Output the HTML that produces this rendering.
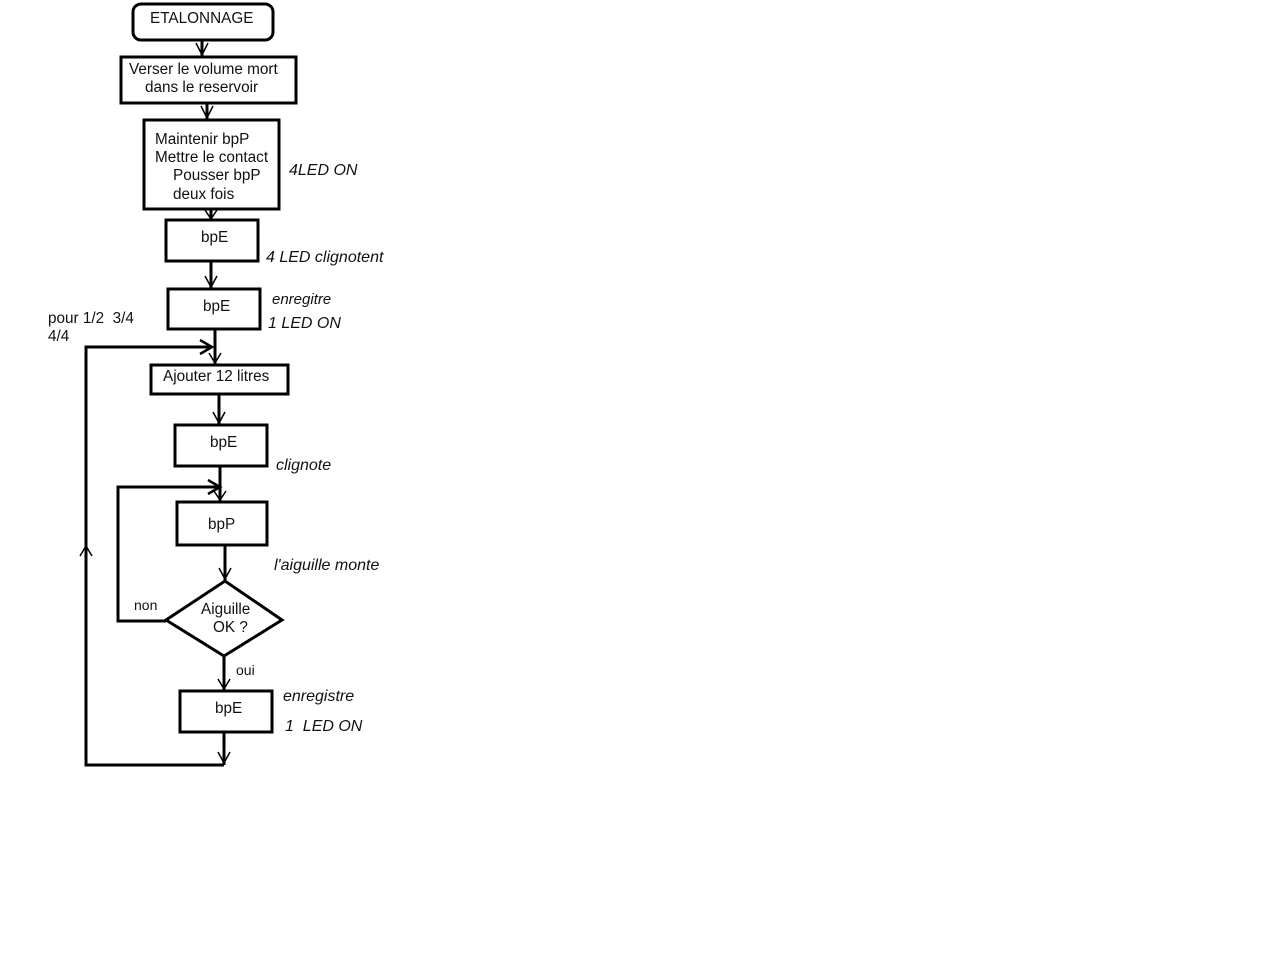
<!DOCTYPE html>
<html><head><style>body{margin:0;background:#fff;}svg{display:block}</style></head><body>
<svg width="1280" height="960" viewBox="0 0 1280 960" xmlns="http://www.w3.org/2000/svg" font-family="Liberation Sans, sans-serif" font-size="15.3" fill="#111">
<g fill="none" stroke="#000" stroke-width="3">
<rect x="133" y="4" width="140" height="36" rx="8"/>
<rect x="121" y="57" width="175" height="46"/>
<rect x="144" y="120" width="135" height="89"/>
<rect x="166" y="220" width="92" height="41"/>
<rect x="168" y="289" width="92" height="40"/>
<rect x="151" y="365" width="137" height="29"/>
<rect x="175" y="425" width="92" height="41"/>
<rect x="177" y="502" width="90" height="43"/>
<polygon points="166,620 225,581 282,620 224,656"/>
<rect x="180" y="691" width="92" height="41"/>
<line x1="202" y1="40" x2="202" y2="57"/>
<line x1="207" y1="103" x2="207" y2="120"/>
<line x1="211" y1="209" x2="211" y2="220"/>
<line x1="211" y1="261" x2="211" y2="289"/>
<line x1="215" y1="329" x2="215" y2="365"/>
<line x1="219" y1="394" x2="219" y2="425"/>
<line x1="220" y1="466" x2="220" y2="502"/>
<line x1="225" y1="545" x2="225" y2="581"/>
<line x1="224" y1="656" x2="224" y2="691"/>
<line x1="224" y1="732" x2="224" y2="765"/>
<polyline points="224,765 86,765 86,347 212,347"/>
<polyline points="166,621 118,621 118,487 220,487"/>
</g>
<g fill="none" stroke="#000" stroke-width="1.5">
<polyline points="196,43 202,55 208,43"/>
<polyline points="201,106 207,118 213,106"/>
<polyline points="205,210 211,219 217,210"/>
<polyline points="205,276 211,287 217,276"/>
<polyline points="209,353 215,363 221,353"/>
<polyline points="213,412 219,423 225,412"/>
<polyline points="214,491 220,500 226,491"/>
<polyline points="219,568 225,579 231,568"/>
<polyline points="218,679 224,689 230,679"/>
<polyline points="218,752 224,763 230,752"/>
<polyline points="80,556 86,546 92,556"/>
<polyline points="200,340 212,347 200,354" stroke-width="2.5"/>
<polyline points="208,480 220,487 208,494" stroke-width="2.5"/>
</g>
<text x="150" y="23">ETALONNAGE</text>
<text x="129" y="74">Verser le volume mort</text>
<text x="145" y="92">dans le reservoir</text>
<text x="155" y="144">Maintenir bpP</text>
<text x="155" y="162">Mettre le contact</text>
<text x="173" y="180">Pousser bpP</text>
<text x="173" y="199">deux fois</text>
<text x="201" y="242">bpE</text>
<text x="203" y="311">bpE</text>
<text x="163" y="381">Ajouter 12 litres</text>
<text x="210" y="447">bpE</text>
<text x="208" y="529">bpP</text>
<text x="201" y="614">Aiguille</text>
<text x="213" y="632">OK ?</text>
<text x="215" y="713">bpE</text>
<text x="48" y="323" xml:space="preserve">pour 1/2  3/4</text>
<text x="48" y="341">4/4</text>
<text x="134" y="610" font-size="14">non</text>
<text x="236" y="675" font-size="14">oui</text>
<g font-style="italic" font-size="16">
<text x="289" y="175">4LED ON</text>
<text x="266" y="262">4 LED clignotent</text>
<text x="272" y="304" font-size="15">enregitre</text>
<text x="268" y="328">1 LED ON</text>
<text x="276" y="470">clignote</text>
<text x="274" y="570">l'aiguille monte</text>
<text x="283" y="701">enregistre</text>
<text x="285" y="731" xml:space="preserve">1  LED ON</text>
</g>
</svg>
</body></html>
